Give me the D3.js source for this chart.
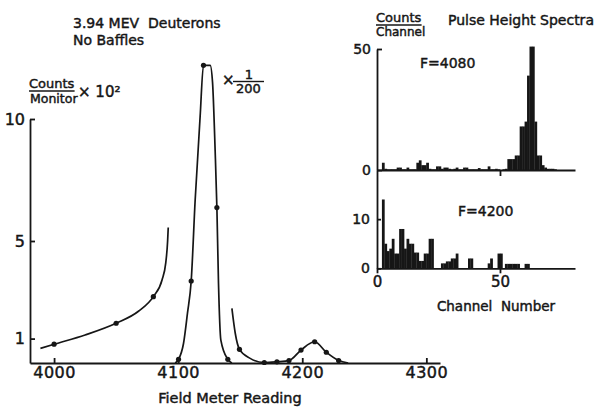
<!DOCTYPE html>
<html>
<head>
<meta charset="utf-8">
<title>3.94 MEV Deuterons</title>
<script src="https://cdnjs.cloudflare.com/ajax/libs/d3/7.8.5/d3.min.js"></script>
<style>
  body { margin: 0; background: #fff; }
  svg text { font-family: "DejaVu Sans", sans-serif; fill: #161616; stroke: #161616; stroke-width: 0.45px; white-space: pre; }
</style>
</head>
<body>
<script>
// main scan: counts/monitor (x10^2) against field meter reading
const fieldTicks = [4000, 4100, 4200, 4300];
const countTicks = [1, 5, 10];

// the hand drawn curve, in three pieces [field, counts]
const lowSide = [[3989, 0.6], [4000, 0.77], [4025, 1.15], [4050, 1.63], [4068, 2.12], [4080, 2.72],
                 [4087, 3.4], [4090, 4.1], [4091.5, 5.0], [4092, 5.55]];
const peak = [[4097.6, 0], [4100.3, 0.15], [4104.3, 0.8], [4107.5, 2.04], [4110.5, 3.36], [4113.7, 6.68],
              [4117.7, 10.1], [4120.4, 12.2], [4125.8, 12.2], [4127.7, 11.5], [4129.8, 8.7], [4131.2, 6.37],
              [4132.5, 3.27], [4134.4, 0.94], [4140, 0.15], [4143.3, 0]];
const highSide = [[4143.3, 2.24], [4146, 1.22], [4149.4, 0.56], [4158, 0.19], [4169.4, 0.02], [4179.6, 0.05],
                  [4189.3, 0.1], [4199, 0.53], [4210, 0.87], [4219.4, 0.44], [4229.3, 0.1], [4237, 0]];
// measured points
const measured = [[4000, 0.77], [4050, 1.63], [4080, 2.72], [4100.3, 0.15], [4110.5, 3.36], [4120.4, 12.2],
                  [4131.2, 6.37], [4140, 0.15], [4149.4, 0.56], [4169.4, 0.02], [4179.6, 0.05], [4189.3, 0.1],
                  [4199, 0.53], [4210, 0.87], [4219.4, 0.44], [4229.3, 0.1]];

// pulse height spectra, counts per channel starting at channel 0
const channelTicks = [0, 50];
const spectrum4080 = [0, 0, 3, 0.5, 0.3, 0.3, 0.3, 0.3, 1, 1, 0.3, 0.3, 1, 0.3, 0.3, 0.3,
                      3, 4, 2, 2, 3, 0.5, 0.3, 0.3, 1.5, 1.5, 0.5, 1, 1, 0.5, 0.3, 0.5,
                      1, 0.3, 0.3, 1, 1, 0.3, 0.3, 0.3, 0.3, 0.8, 0.3, 0.3, 0.3, 1.5, 0.3, 0.3,
                      0.5, 0.3, 0, 0.3, 0.5, 4.5, 4.5, 4.5, 6, 6, 18, 18, 20, 39, 51, 51,
                      20, 6, 6, 2, 1, 0.5, 0.5, 0.5, 0.3];
const spectrum4200 = [0, 0, 14, 5, 3.5, 4, 6, 3, 3, 8, 8, 4, 6, 5, 5, 3.2,
                      3.2, 1.5, 1.5, 3, 3, 6, 6, 0, 0, 0, 1, 1, 1.4, 1.4, 2, 2,
                      3, 0, 0, 0, 0, 2, 2, 0, 0, 0, 0, 0, 0, 1, 2, 0,
                      0, 3, 3, 0, 0.9, 0.9, 0.9, 0.9, 0.9, 0.9, 0, 0, 0.9, 0.9];

const W = 594, H = 409;
const ink = "#161616";

const svg = d3.select("body").append("svg")
    .attr("width", W)
    .attr("height", H);

// ---------- main chart ----------
const x = d3.scaleLinear().domain([3980.6, 4311]).range([30, 440]);
const y = d3.scaleLinear().domain([0, 10]).range([363, 119]);

const line = d3.line()
    .x(d => x(d[0]))
    .y(d => y(d[1]))
    .curve(d3.curveMonotoneX);

[lowSide, peak, highSide].forEach(seg => {
    svg.append("path")
        .attr("d", line(seg))
        .attr("fill", "none")
        .attr("stroke", ink)
        .attr("stroke-width", 1.7);
});

svg.selectAll("circle.pt")
    .data(measured)
    .enter()
    .append("circle")
    .attr("class", "pt")
    .attr("r", 2.6)
    .attr("cx", d => x(d[0]))
    .attr("cy", d => y(d[1]))
    .attr("fill", ink);

const xAxis = d3.axisBottom(x)
    .tickValues(fieldTicks)
    .tickFormat(d3.format("d"))
    .tickSizeInner(-5)
    .tickSizeOuter(0)
    .tickPadding(4);
const yAxis = d3.axisLeft(y)
    .tickValues(countTicks)
    .tickSizeInner(-5)
    .tickSizeOuter(0)
    .tickPadding(5);

const gx = svg.append("g").attr("transform", "translate(0," + y(0) + ")").call(xAxis);
const gy = svg.append("g").attr("transform", "translate(" + x.range()[0] + ",0)").call(yAxis);

function styleAxis(g, size) {
    g.selectAll("path, line").attr("stroke", ink).attr("stroke-width", 1.8);
    g.selectAll("text").style("font-size", size + "px");
}
styleAxis(gx, 16);
styleAxis(gy, 16);
gx.selectAll("text").attr("letter-spacing", "0.5");

// titles and labels
function label(txt, tx, ty, size, anchor) {
    return svg.append("text")
        .attr("x", tx)
        .attr("y", ty)
        .attr("text-anchor", anchor || "start")
        .style("font-size", size + "px")
        .text(txt);
}
function underline(t, dy) {
    const b = t.node().getBBox();
    svg.append("line")
        .attr("x1", b.x).attr("x2", b.x + b.width)
        .attr("y1", +t.attr("y") + dy).attr("y2", +t.attr("y") + dy)
        .attr("stroke", ink).attr("stroke-width", 1.4);
}

label("3.94 MEV  Deuterons", 73, 28, 14);
label("No Baffles", 73, 45, 14);

const cm = label("Counts", 29, 88, 13);
underline(cm, 3);
label("Monitor", 30, 103, 12.5);
label("× 10²", 78, 97, 15);

label("×", 222, 85, 15);
label("1", 249, 79, 13, "middle");
svg.append("line")
    .attr("x1", 233).attr("x2", 264).attr("y1", 81.5).attr("y2", 81.5)
    .attr("stroke", ink).attr("stroke-width", 1.4);
label("200", 248.5, 93, 13, "middle");

label("Field Meter Reading", 230, 403, 14.5, "middle");

// ---------- inset: pulse height spectra ----------
const xc = d3.scaleLinear().domain([0, 80.5]).range([377, 575]);
const yU = d3.scaleLinear().domain([0, 50]).range([170, 49]);
const yL = d3.scaleLinear().domain([0, 20]).range([268.3, 170]);

function bars(data, ys, cls) {
    svg.selectAll("rect." + cls)
        .data(data)
        .enter()
        .append("rect")
        .attr("class", cls)
        .attr("x", (d, i) => xc(i))
        .attr("width", (d, i) => xc(i + 1) - xc(i) + 0.3)
        .attr("y", d => ys(d))
        .attr("height", d => ys(0) - ys(d))
        .attr("fill", ink);
}
bars(spectrum4080, yU, "hi");
bars(spectrum4200, yL, "lo");

const gU = svg.append("g").attr("transform", "translate(" + xc(0) + ",0)")
    .call(d3.axisLeft(yU).tickValues([0, 50]).tickSizeInner(-5).tickSizeOuter(0).tickPadding(6));
const gL = svg.append("g").attr("transform", "translate(" + xc(0) + ",0)")
    .call(d3.axisLeft(yL).tickValues([0, 10]).tickSizeInner(-4).tickSizeOuter(0).tickPadding(7));
const gUx = svg.append("g").attr("transform", "translate(0," + yU(0) + ")")
    .call(d3.axisBottom(xc).tickValues([50]).tickFormat("").tickSizeInner(6).tickSizeOuter(0));
const gLx = svg.append("g").attr("transform", "translate(0," + yL(0) + ")")
    .call(d3.axisBottom(xc).tickValues(channelTicks).tickSizeInner(5).tickSizeOuter(0).tickPadding(3));
[gU, gL, gUx, gLx].forEach(g => styleAxis(g, 14));
gLx.selectAll("text").style("font-size", "15px");

const cc = label("Counts", 376, 22, 13);
underline(cc, 3);
label("Channel", 376, 36, 12);
label("Pulse Height Spectra", 448, 25, 14);
label("F=4080", 420, 68, 14);
label("F=4200", 458, 216, 14);
label("Channel  Number", 496, 311, 13.5, "middle");
</script>
</body>
</html>
